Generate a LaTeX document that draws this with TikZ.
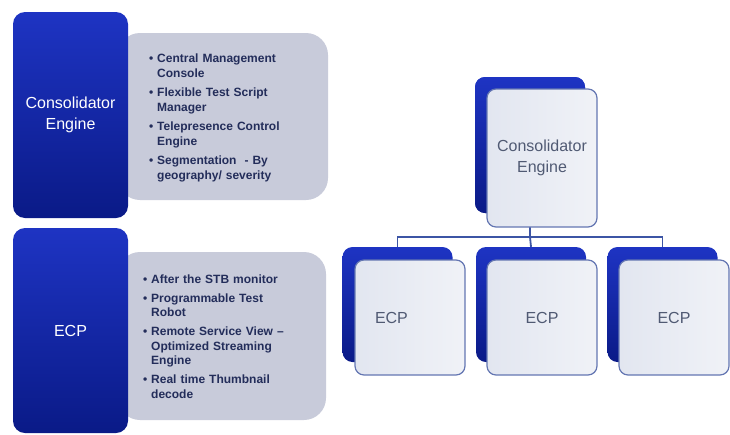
\documentclass[tikz,border=0pt]{standalone}
\usepackage{fontspec}
\setmainfont{Liberation Sans}
\definecolor{bluetop}{RGB}{30,52,195}
\definecolor{bluebot}{RGB}{10,26,135}
\definecolor{grayfill}{RGB}{200,203,218}
\definecolor{bullettext}{RGB}{35,45,90}
\definecolor{frontL}{RGB}{226,230,240}
\definecolor{frontR}{RGB}{240,242,247}
\definecolor{frontborder}{RGB}{100,118,178}
\definecolor{treetext}{RGB}{80,90,115}
\definecolor{connblue}{RGB}{60,85,165}
\newcommand\bitem[1]{\par\noindent\hangindent=8pt\hangafter=1\makebox[8pt][l]{\textbullet}#1}
\begin{document}
\begin{tikzpicture}[x=1pt,y=-1pt,
  bluebox/.style={rounded corners=12pt, top color=bluetop, bottom color=bluebot, draw=none,
    minimum width=115pt, inner sep=0pt, text=white, align=center,
    font=\fontsize{16}{21}\selectfont},
  graybox/.style={rounded corners=22pt, fill=grayfill, draw=none, inner sep=0pt},
  bullets/.style={anchor=north west, inner sep=0pt, text width=170pt, text=bullettext,
    font=\fontsize{12}{14.5}\selectfont\bfseries},
  backbox/.style={rounded corners=10pt, top color=bluetop, bottom color=bluebot, draw=none,
    minimum width=110pt, inner sep=0pt},
  frontbox/.style={rounded corners=9pt, draw=frontborder, line width=1.2pt,
    left color=frontL, right color=frontR, minimum width=110pt, inner sep=0pt,
    text=treetext, align=center, font=\fontsize{16}{21}\selectfont},
  conn/.style={draw=connblue, line width=1.8pt}
]
\useasboundingbox (0,0) rectangle (730,434);

% left column
\node[graybox, minimum width=210pt, minimum height=167pt] (ceGray) at (223,116.5) {};
\node[bluebox, minimum height=206pt] (ceBlue) at (70.5,115) {Consolidator\\Engine};
\node[bullets] (ceList) at (149,43) {\setlength\parskip{5pt}\raggedright
  \bitem{Central Management\newline Console}
  \bitem{Flexible Test Script\newline Manager}
  \bitem{Telepresence Control\newline Engine}
  \bitem{Segmentation \ - By\newline geography/ severity}\par};

\node[graybox, minimum width=208pt, minimum height=168pt] (ecpGray) at (222,336) {};
\node[bluebox, minimum height=205pt] (ecpBlue) at (70.5,330.5) {ECP};
\node[bullets] (ecpList) at (143,264) {\setlength\parskip{4.5pt}\raggedright
  \bitem{After the STB monitor}
  \bitem{Programmable Test\newline Robot}
  \bitem{Remote Service View –\newline Optimized Streaming\newline Engine}
  \bitem{Real time Thumbnail\newline decode}\par};

% tree: back boxes
\node[backbox, minimum height=136pt] (topBack) at (530,145) {};
\node[backbox, minimum height=115pt] (e1Back) at (397.5,304.5) {};
\node[backbox, minimum height=115pt] (e2Back) at (531,304.5) {};
\node[backbox, minimum height=115pt] (e3Back) at (662.5,304.5) {};

% connectors
\coordinate (bus) at (530,237);
\draw[conn] (topBack.center) -- (bus);
\draw[conn] (e1Back.north) |- (bus) -| (e3Back.north);
\draw[conn] (bus) -- (e2Back.north);

% redraw back box over connector end
\node[backbox, minimum height=136pt] at (530,145) {};

% front boxes
\node[frontbox, minimum height=138pt] (topFront) at (542,158) {Consolidator\\Engine};
\node[frontbox, minimum height=115pt, text width=70pt, align=left] (e1Front) at (410,317.5) {ECP};
\node[frontbox, minimum height=115pt] (e2Front) at (542,317.5) {ECP};
\node[frontbox, minimum height=115pt] (e3Front) at (674,317.5) {ECP};
\end{tikzpicture}
\end{document}
